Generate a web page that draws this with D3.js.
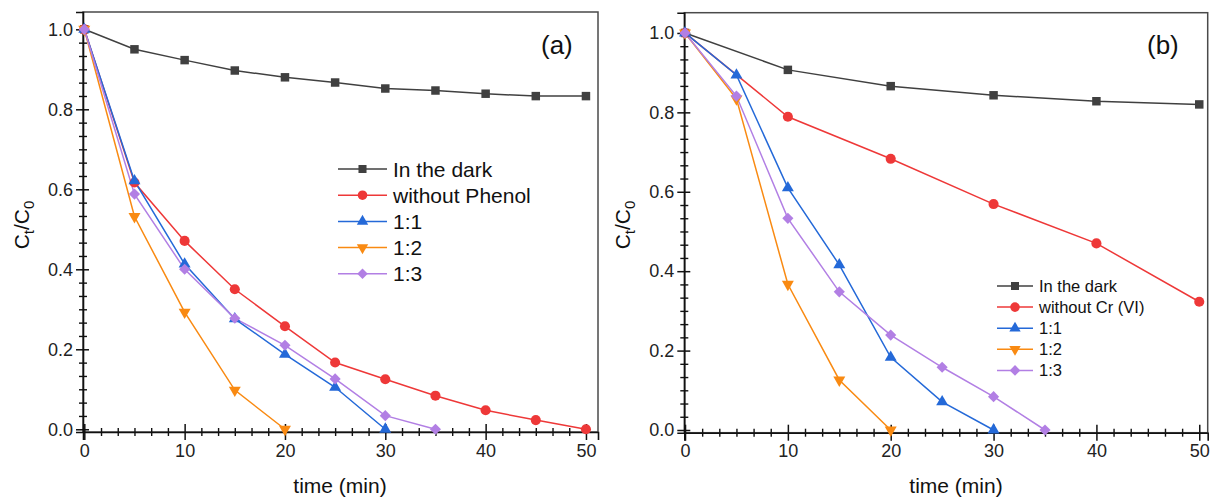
<!DOCTYPE html>
<html><head><meta charset="utf-8">
<script src="https://cdn.jsdelivr.net/npm/d3@7"></script>
<style>body{margin:0;background:#fff}svg{display:block;font-family:"Liberation Sans",Arial,sans-serif}</style>
</head><body><svg id="c" width="1213" height="503"></svg>
<script>
// ---------- data ----------
const legendA = ["In the dark", "without Phenol", "1:1", "1:2", "1:3"];
const legendB = ["In the dark", "without Cr (VI)", "1:1", "1:2", "1:3"];

const tA_full = [0,5,10,15,20,25,30,35,40,45,50];
const darkA   = [1.0,0.95,0.923,0.897,0.88,0.867,0.852,0.847,0.839,0.833,0.833];
const noPhenolA = [1.0,0.617,0.471,0.35,0.2575,0.167,0.125,0.084,0.0475,0.023,0.0];
const tA_11 = [0,5,10,15,20,25,30];
const r11A  = [1.0,0.621,0.413,0.276,0.1875,0.105,0.0];
const tA_12 = [0,5,10,15,20];
const r12A  = [1.0,0.532,0.293,0.098,0.0];
const tA_13 = [0,5,10,15,20,25,30,35];
const r13A  = [1.0,0.588,0.40,0.2775,0.21,0.126,0.034,0.0];

const tB_ten = [0,10,20,30,40,50];
const darkB  = [1.0,0.907,0.866,0.843,0.828,0.820];
const noCrB  = [1.0,0.789,0.683,0.569,0.470,0.323];
const tB_11 = [0,5,10,15,20,25,30];
const r11B  = [1.0,0.894,0.610,0.416,0.183,0.071,0.0];
const tB_12 = [0,5,10,15,20];
const r12B  = [1.0,0.834,0.367,0.126,0.0];
const tB_13 = [0,5,10,15,20,25,30,35];
const r13B  = [1.0,0.841,0.533,0.348,0.239,0.158,0.084,0.0];

const xMajor = [0,10,20,30,40,50];
const yMajor = [0.0,0.2,0.4,0.6,0.8,1.0];
const yLabels = ["0.0","0.2","0.4","0.6","0.8","1.0"];

// ---------- styles ----------
const colors = ["#404040","#ee3838","#2469d8","#f98a12","#b27fe4"];
const shapes = ["square","circle","triUp","triDown","diamond"];

const svg = d3.select("#c");

function symbolPath(shape, big){
  const k = big ? 1 : 0.9;
  switch(shape){
    case "square": return d3.symbol(d3.symbolSquare, 72*k)();
    case "circle": return d3.symbol(d3.symbolCircle, 80*k)();
    case "triUp": return d3.symbol(d3.symbolTriangle, 62*k)();
    case "triDown": return d3.symbol(d3.symbolTriangle, 62*k)();
    case "diamond": return d3.symbol(d3.symbolSquare, 62*k)();
  }
}
function symbolRot(shape){
  if(shape==="triDown") return 180;
  if(shape==="diamond") return 45;
  return 0;
}

function panel(cfg){
  const g = svg.append("g");
  const x = d3.scaleLinear().domain(cfg.xd).range([cfg.L, cfg.R]);
  const y = d3.scaleLinear().domain(cfg.yd).range([cfg.B, cfg.T]);

  g.append("rect").attr("x",cfg.L).attr("y",cfg.T).attr("width",cfg.R-cfg.L).attr("height",cfg.B-cfg.T)
    .attr("fill","none").attr("stroke","#4a4a4a").attr("stroke-width",1.5);

  const yMinor = d3.range(0,1.0001,0.2/6).filter(v=>!yMajor.some(m=>Math.abs(m-v)<1e-6));
  const xMinor = d3.range(0,50.001,10/6).filter(v=>!xMajor.some(m=>Math.abs(m-v)<1e-6));

  const ya = g.append("g").attr("transform",`translate(${cfg.L},0)`)
    .call(d3.axisLeft(y).tickValues(yMajor).tickFormat((d,i)=>yLabels[i]).tickSize(7).tickPadding(3));
  ya.select(".domain").attr("stroke","#111").attr("stroke-width",1.6);
  ya.selectAll(".tick line").attr("stroke","#111").attr("stroke-width",1.5);
  ya.selectAll(".tick text").attr("font-size",18).attr("fill","#222").attr("font-family","Liberation Sans, Arial");
  const yai = g.append("g").attr("transform",`translate(${cfg.L},0)`)
    .call(d3.axisLeft(y).tickValues(yMajor).tickFormat("").tickSize(-6));
  yai.select(".domain").remove();
  yai.selectAll(".tick line").attr("stroke","#111").attr("stroke-width",1.5);
  [4,-4].forEach(s=>{
    const m = g.append("g").attr("transform",`translate(${cfg.L},0)`)
      .call(d3.axisLeft(y).tickValues(yMinor).tickFormat("").tickSize(s));
    m.select(".domain").remove();
    m.selectAll(".tick line").attr("stroke","#111").attr("stroke-width",1.4);
  });

  const xa = g.append("g").attr("transform",`translate(0,${cfg.B})`)
    .call(d3.axisBottom(x).tickValues(xMajor).tickFormat(d3.format("d")).tickSize(8).tickPadding(4));
  xa.select(".domain").attr("stroke","#111").attr("stroke-width",1.6);
  xa.selectAll(".tick line").attr("stroke","#111").attr("stroke-width",1.5);
  xa.selectAll(".tick text").attr("font-size",18).attr("fill","#222").attr("font-family","Liberation Sans, Arial");
  const xai = g.append("g").attr("transform",`translate(0,${cfg.B})`)
    .call(d3.axisBottom(x).tickValues(xMajor).tickFormat("").tickSize(-8));
  xai.select(".domain").remove();
  xai.selectAll(".tick line").attr("stroke","#111").attr("stroke-width",1.5);
  [4,-4].forEach(s=>{
    const m = g.append("g").attr("transform",`translate(0,${cfg.B})`)
      .call(d3.axisBottom(x).tickValues(xMinor).tickFormat("").tickSize(s));
    m.select(".domain").remove();
    m.selectAll(".tick line").attr("stroke","#111").attr("stroke-width",1.4);
  });

  const line = d3.line().x(d=>x(d[0])).y(d=>y(d[1])).curve(d3.curveLinear);
  cfg.series.forEach((s,i)=>{
    const pts = s.t.map((t,j)=>[t,s.v[j]]);
    g.append("path").attr("d",line(pts)).attr("fill","none").attr("stroke",colors[i]).attr("stroke-width",1.5);
  });
  cfg.series.forEach((s,i)=>{
    const pts = s.t.map((t,j)=>[t,s.v[j]]);
    g.selectAll(null).data(pts).enter().append("path")
      .attr("d",symbolPath(shapes[i],true))
      .attr("transform",d=>`translate(${x(d[0])},${y(d[1])}) rotate(${symbolRot(shapes[i])})`)
      .attr("fill",colors[i]);
  });

  const lg = cfg.legend;
  lg.names.forEach((n,i)=>{
    const yy = lg.y0 + i*lg.dy;
    g.append("line").attr("x1",lg.x1).attr("x2",lg.x2).attr("y1",yy).attr("y2",yy)
      .attr("stroke",colors[i]).attr("stroke-width",1.5);
    g.append("path").attr("d",symbolPath(shapes[i],false))
      .attr("transform",`translate(${(lg.x1+lg.x2)/2},${yy}) rotate(${symbolRot(shapes[i])})`)
      .attr("fill",colors[i]);
    g.append("text").attr("x",lg.tx).attr("y",yy).attr("dy","0.36em")
      .attr("font-size",lg.fs).attr("fill","#111").text(n);
  });

  g.append("text").attr("x",cfg.xlab[0]).attr("y",cfg.xlab[1]).attr("text-anchor","middle")
    .attr("font-size",21).attr("fill","#111").text("time (min)");
  const yl = g.append("text").attr("transform",`translate(${cfg.ylab[0]},${cfg.ylab[1]}) rotate(-90)`)
    .attr("text-anchor","middle").attr("font-size",21).attr("fill","#111");
  yl.append("tspan").text("C");
  yl.append("tspan").attr("font-size",15).attr("dy",5).text("t");
  yl.append("tspan").attr("dy",-5).text("/C");
  yl.append("tspan").attr("font-size",15).attr("dy",5).text("0");

  g.append("text").attr("x",cfg.tag[0]).attr("y",cfg.tag[1]).attr("font-size",26).attr("fill","#111").text(cfg.tagText);
}

panel({
  L:83, R:598, T:12, B:432,
  xd:[-0.13,51.2], yd:[-0.0068,1.0433],
  series:[
    {t:tA_full, v:darkA},
    {t:tA_full, v:noPhenolA},
    {t:tA_11, v:r11A},
    {t:tA_12, v:r12A},
    {t:tA_13, v:r13A}
  ],
  legend:{names:legendA, x1:338, x2:387, tx:393, y0:169, dy:26.2, fs:21},
  xlab:[340,493], ylab:[29,225], tag:[541,54], tagText:"(a)"
});

panel({
  L:684.3, R:1207.7, T:12.7, B:432.7,
  xd:[-0.07,50.82], yd:[-0.0068,1.051],
  series:[
    {t:tB_ten, v:darkB},
    {t:tB_ten, v:noCrB},
    {t:tB_11, v:r11B},
    {t:tB_12, v:r12B},
    {t:tB_13, v:r13B}
  ],
  legend:{names:legendB, x1:997, x2:1033, tx:1039, y0:286, dy:21.1, fs:16.5},
  xlab:[956,493], ylab:[630,225], tag:[1147,54], tagText:"(b)"
});
</script></body></html>
